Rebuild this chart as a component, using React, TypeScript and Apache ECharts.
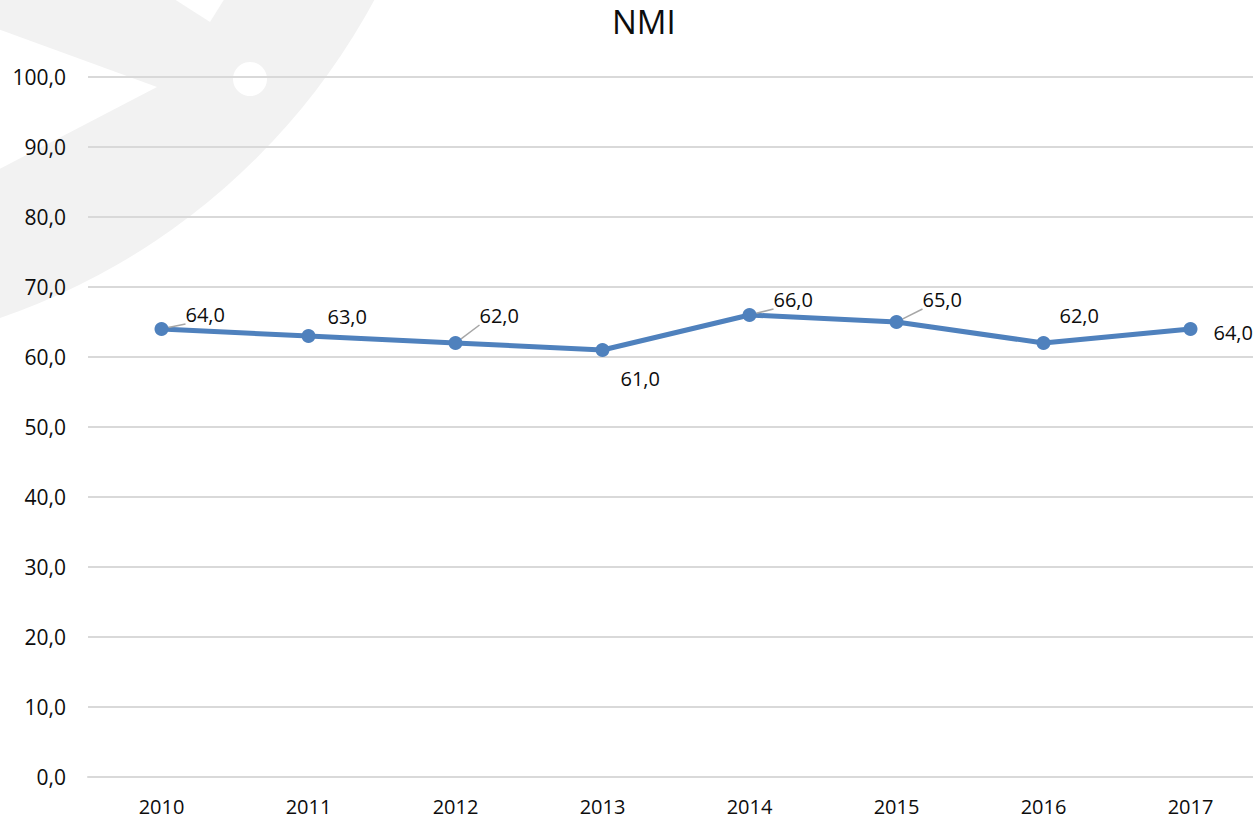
import React, { useEffect, useRef } from "react";
import * as echarts from "echarts";

const years = ["2010", "2011", "2012", "2013", "2014", "2015", "2016", "2017"];
const nmiValues = [64, 63, 62, 61, 66, 65, 62, 64];
// label offsets [dx, dy] relative to default "right" label placement
const labelOffsets: [number, number][] = [
  [12, -15],
  [7, -20],
  [12, -28],
  [6, 28],
  [12, -16],
  [14, -23],
  [4, -28],
  [11, 3],
];
const leaderShown = [true, false, true, false, true, true, false, false];
const yMin = 0;
const yMax = 100;
const yInterval = 10;
const chartTitle = "NMI";

const FONT = "'Open Sans', 'Noto Sans', sans-serif";
const LINE_COLOR = "#4f81bd";

export default function App() {
  const ref = useRef<HTMLDivElement>(null);

  useEffect(() => {
    if (!ref.current) return;
    const chart = echarts.init(ref.current, undefined, { renderer: "svg" });
    const fmt = (v: number) => v.toFixed(1).replace(".", ",");

    chart.setOption({
      animation: false,
      backgroundColor: "#ffffff",
      title: {
        text: chartTitle,
        left: 607,
        top: 0,
        textStyle: {
          fontFamily: FONT,
          fontSize: 33,
          fontWeight: "normal",
          color: "#0d0d0d",
        },
      },
      graphic: [
        {
          type: "circle",
          z: -10,
          silent: true,
          shape: { cx: -220, cy: -320, r: 675 },
          style: { fill: "#f2f2f2" },
        },
        {
          type: "polygon",
          z: -9,
          silent: true,
          shape: { points: [[-60, 8], [157, 87], [-60, 200]] },
          style: { fill: "#ffffff" },
        },
        {
          type: "polygon",
          z: -9,
          silent: true,
          shape: { points: [[160, -10], [210, 22], [230, -10]] },
          style: { fill: "#ffffff" },
        },
        {
          type: "circle",
          z: -9,
          silent: true,
          shape: { cx: 250, cy: 79, r: 17 },
          style: { fill: "#ffffff" },
        },
      ],
      grid: {
        left: 88,
        width: 1176,
        top: 77,
        height: 700,
        containLabel: false,
        outerBoundsMode: "none",
      },
      xAxis: {
        type: "category",
        data: years,
        boundaryGap: true,
        axisLine: { show: true, lineStyle: { color: "#d9d9d9", width: 2 } },
        axisTick: { show: false },
        axisLabel: {
          fontFamily: FONT,
          fontSize: 20,
          color: "#0d0d0d",
          margin: 19,
        },
        splitLine: { show: false },
      },
      yAxis: {
        type: "value",
        min: yMin,
        max: yMax,
        interval: yInterval,
        axisLine: { show: false },
        axisTick: { show: false },
        axisLabel: {
          fontFamily: FONT,
          fontSize: 21,
          color: "#0d0d0d",
          margin: 22,
          formatter: (v: number) => fmt(v),
        },
        splitLine: { show: true, lineStyle: { color: "#d9d9d9", width: 2 } },
      },
      series: [
        {
          type: "line",
          data: nmiValues.map((v, i) => ({
            value: v,
            label: { offset: labelOffsets[i] },
            labelLine: { show: leaderShown[i] },
          })),
          symbol: "circle",
          symbolSize: 14,
          lineStyle: { color: LINE_COLOR, width: 5 },
          itemStyle: { color: LINE_COLOR },
          label: {
            show: true,
            position: "right",
            distance: 5,
            fontFamily: FONT,
            fontSize: 20,
            color: "#0d0d0d",
            formatter: (p: any) => fmt(p.value),
          },
          labelLine: {
            show: false,
            lineStyle: { color: "#a6a6a6", width: 1.5 },
          },
        },
      ],
    });

    return () => {
      chart.dispose();
    };
  }, []);

  return (
    <div
      ref={ref}
      style={{ position: "fixed", left: 0, top: 0, width: 1253, height: 821 }}
    />
  );
}
